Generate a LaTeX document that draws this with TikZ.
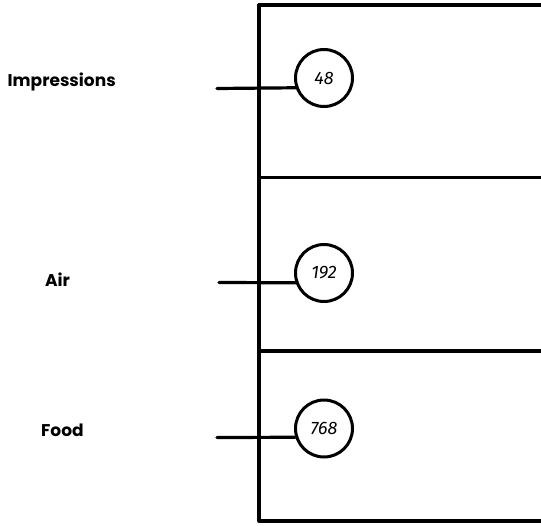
\documentclass[tikz,border=0pt]{standalone}
\usepackage{fontspec}
\setmainfont{Poppins}
\newfontfamily\numfont{Fira Sans}
\tikzset{
  frame/.style={line width=3.2pt, line cap=round, line join=round},
  valcircle/.style={circle, draw, line width=3pt, minimum size=57pt, inner sep=0pt, font=\numfont\itshape\fontsize{18}{18}\selectfont},
  lbl/.style={anchor=base west, inner sep=0pt, font=\bfseries\fontsize{17}{17}\selectfont},
  feed/.style={line width=3.2pt, line cap=round}
}
\begin{document}
\begin{tikzpicture}[x=1pt,y=-1pt]
\useasboundingbox (0,0) rectangle (541,525);
\clip (0,0) rectangle (541,525);
% frame with dividers
\draw[frame] (560,5) -- (259,5) -- (259,521) -- (560,521);
\draw[frame] (259,177.5) -- (560,177.5);
\draw[frame] (259,351) -- (560,351);
% circles
\node[valcircle] (c1) at (324,78) {48};
\node[valcircle] (c2) at (324,273) {192};
\node[valcircle] (c3) at (324,428.5) {768};
% labels
\node[lbl] (l1) at (7.5,86.5) {Impressions};
\node[lbl] (l2) at (45,286.5) {Air};
\node[lbl] (l3) at (41,436) {Food};
% feed lines
\coordinate (a1) at (217,88.5);
\coordinate (a2) at (219,282.5);
\coordinate (a3) at (217,437.5);
\draw[feed] (a1) -- (c1.199);
\draw[feed] (a2) -- (c2.199);
\draw[feed] (a3) -- (c3.197);
\end{tikzpicture}
\end{document}
